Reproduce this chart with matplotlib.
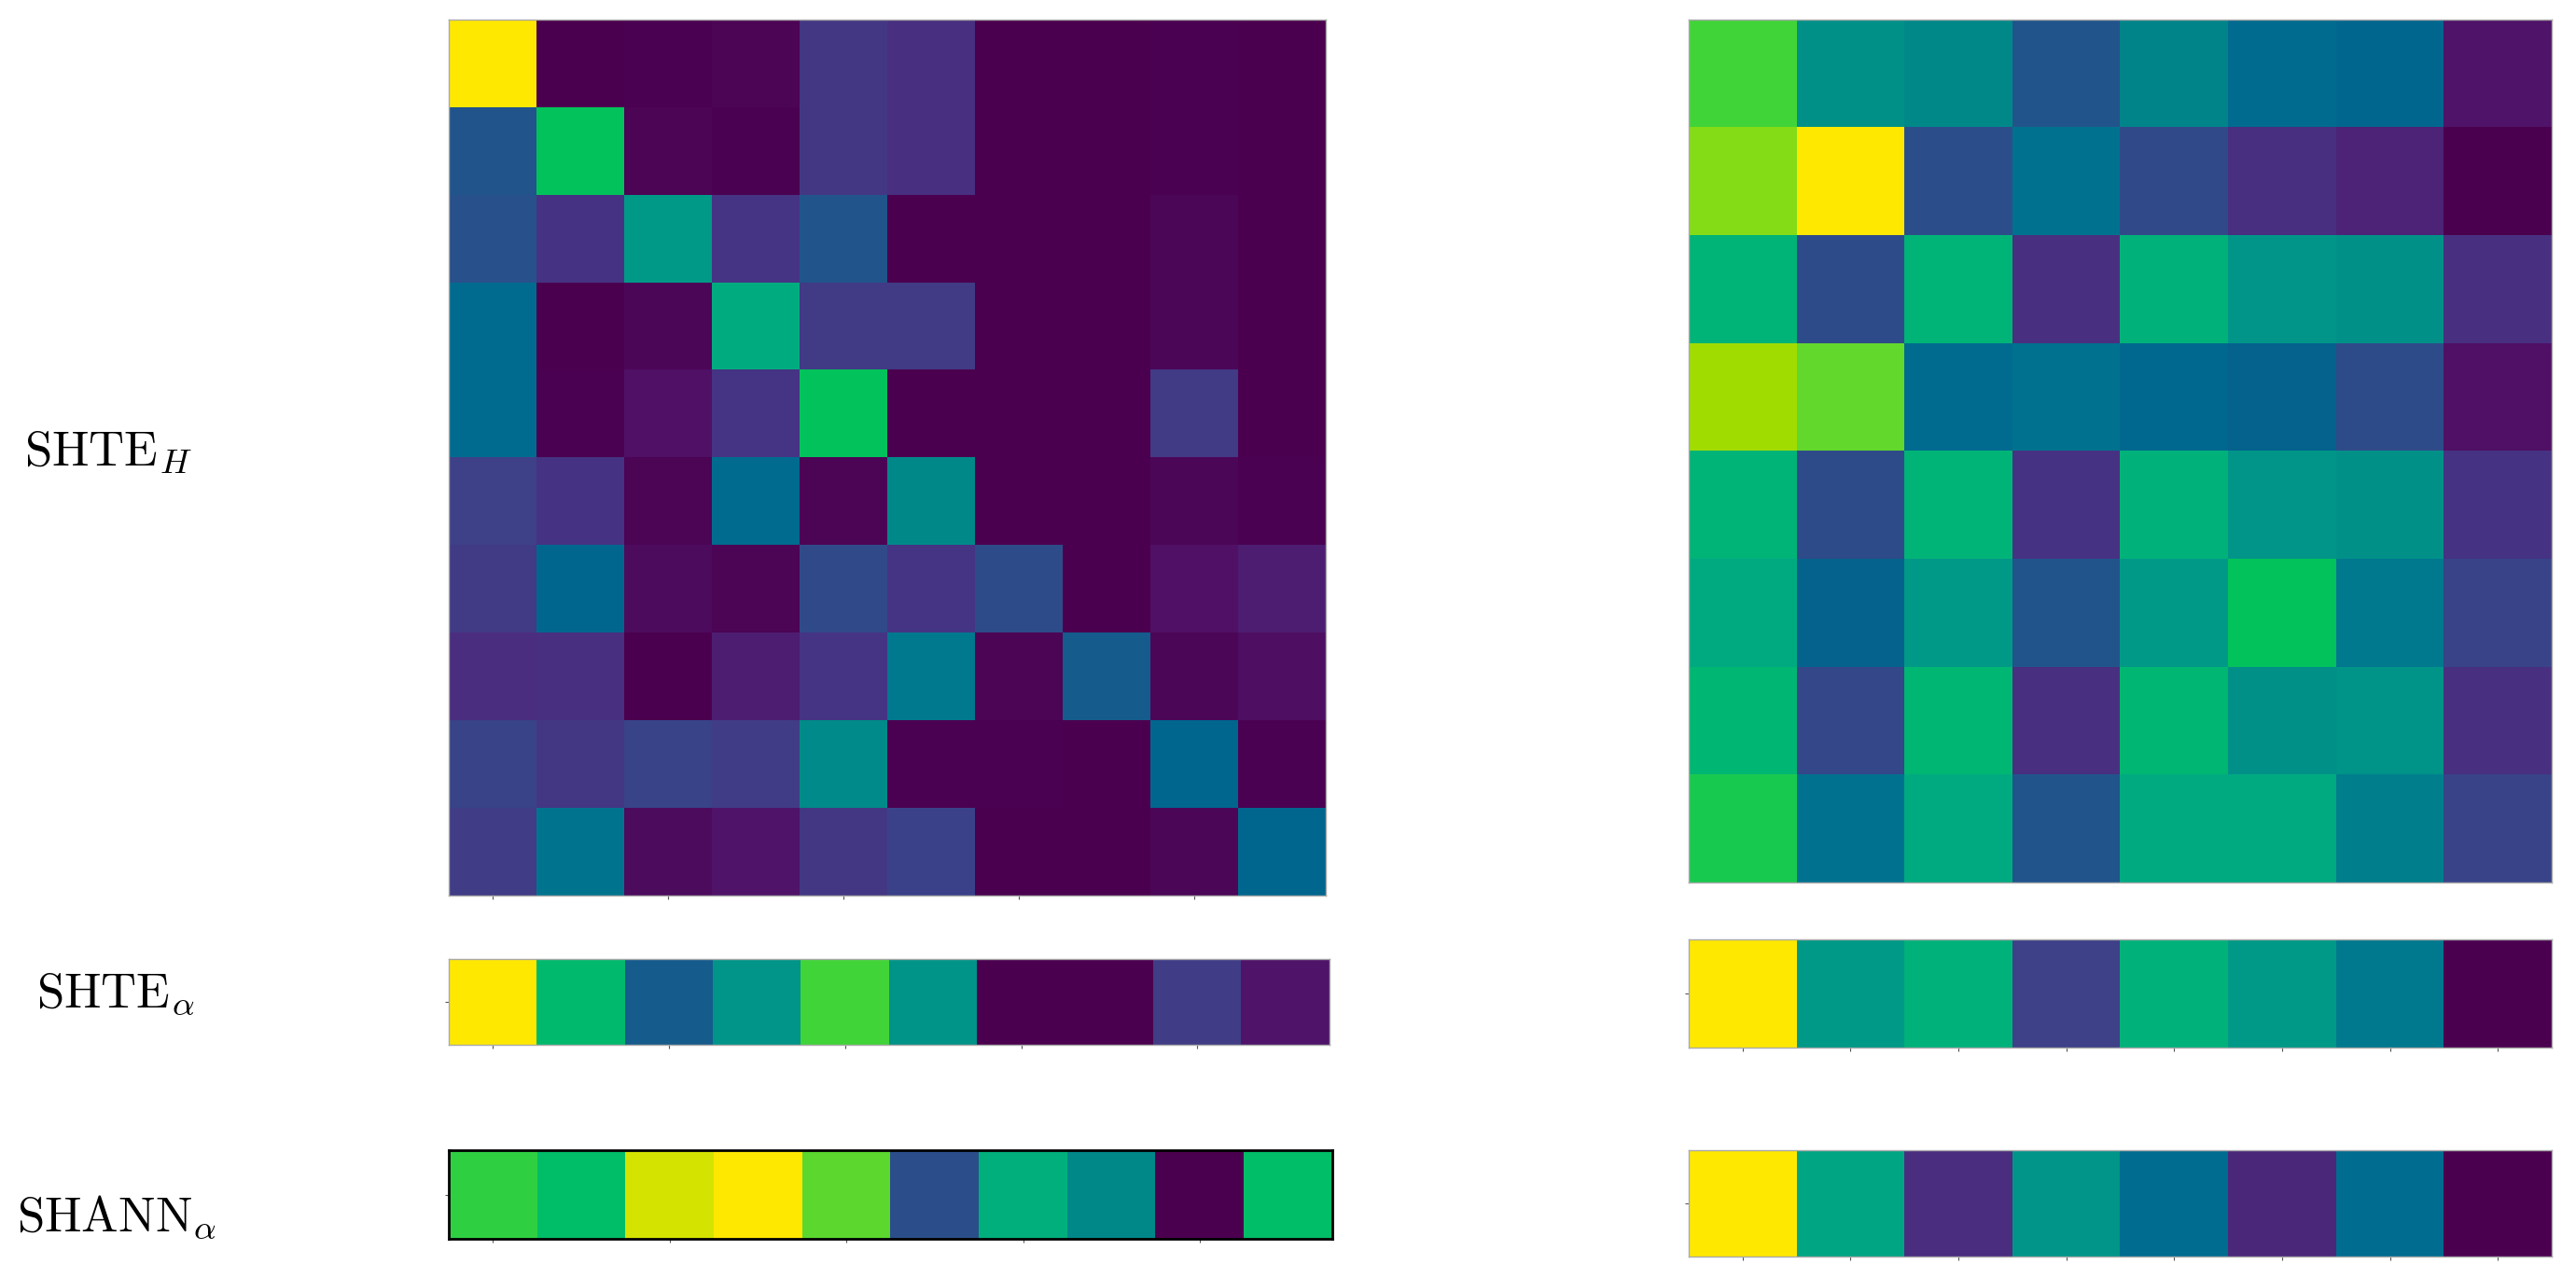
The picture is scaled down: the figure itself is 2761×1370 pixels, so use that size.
import numpy as np
import matplotlib
matplotlib.use("Agg")
import matplotlib.pyplot as plt
from matplotlib.colors import LinearSegmentedColormap

plt.rcParams["mathtext.fontset"] = "cm"

# left column (10 heads)
shte_h_left = [
    [1.00, 0.00, 0.01, 0.02, 0.17, 0.14, 0.00, 0.00, 0.01, 0.00],
    [0.30, 0.70, 0.02, 0.01, 0.17, 0.14, 0.00, 0.00, 0.01, 0.00],
    [0.28, 0.15, 0.56, 0.16, 0.30, 0.00, 0.00, 0.00, 0.03, 0.00],
    [0.40, 0.00, 0.03, 0.62, 0.18, 0.18, 0.00, 0.00, 0.03, 0.00],
    [0.40, 0.01, 0.07, 0.16, 0.70, 0.00, 0.00, 0.00, 0.18, 0.00],
    [0.20, 0.15, 0.02, 0.40, 0.02, 0.50, 0.00, 0.00, 0.03, 0.01],
    [0.18, 0.38, 0.05, 0.02, 0.25, 0.16, 0.26, 0.00, 0.07, 0.10],
    [0.13, 0.14, 0.00, 0.10, 0.16, 0.45, 0.02, 0.33, 0.03, 0.06],
    [0.22, 0.17, 0.22, 0.19, 0.51, 0.01, 0.01, 0.00, 0.38, 0.01],
    [0.19, 0.44, 0.05, 0.08, 0.17, 0.21, 0.00, 0.00, 0.03, 0.38],
]
shte_a_left = [1.00, 0.67, 0.33, 0.55, 0.76, 0.54, 0.00, 0.00, 0.19, 0.08]
shann_a_left = [0.74, 0.68, 0.94, 1.00, 0.79, 0.27, 0.63, 0.50, 0.00, 0.68]

# right column (8 heads)
shte_h_right = [
    [0.76, 0.53, 0.50, 0.30, 0.49, 0.40, 0.38, 0.08],
    [0.84, 1.00, 0.27, 0.43, 0.25, 0.14, 0.11, 0.00],
    [0.65, 0.26, 0.65, 0.14, 0.64, 0.55, 0.53, 0.14],
    [0.87, 0.80, 0.40, 0.43, 0.39, 0.36, 0.26, 0.07],
    [0.65, 0.26, 0.65, 0.15, 0.64, 0.55, 0.53, 0.15],
    [0.61, 0.36, 0.56, 0.30, 0.56, 0.70, 0.45, 0.22],
    [0.66, 0.24, 0.66, 0.14, 0.66, 0.53, 0.54, 0.14],
    [0.72, 0.43, 0.61, 0.30, 0.61, 0.61, 0.47, 0.22],
]
shte_a_right = [1.00, 0.56, 0.64, 0.20, 0.64, 0.56, 0.45, 0.00]
shann_a_right = [1.00, 0.59, 0.13, 0.55, 0.41, 0.12, 0.41, 0.00]

row_labels = [r"$\mathrm{SHTE}_H$", r"$\mathrm{SHTE}_\alpha$", r"$\mathrm{SHANN}_\alpha$"]

# a more saturated take on viridis, as in the source image
cmap = LinearSegmentedColormap.from_list("vivid", [
    (0.00, "#4b004f"), (0.08, "#50146a"), (0.13, "#4a2e80"),
    (0.20, "#3e4088"), (0.27, "#2c4e8a"), (0.32, "#1a5a8c"),
    (0.37, "#00648e"), (0.43, "#007290"), (0.50, "#00888a"),
    (0.55, "#009688"), (0.60, "#00a884"), (0.65, "#00b478"),
    (0.70, "#00c25e"), (0.75, "#38d43c"), (0.80, "#62d82c"),
    (0.84, "#80dc18"), (0.87, "#a0dc00"), (0.94, "#d4e400"),
    (1.00, "#ffe800"),
])


def draw(ax, data, xstep):
    data = np.atleast_2d(np.array(data))
    ax.imshow(data, cmap=cmap, vmin=0, vmax=1, aspect="auto", interpolation="nearest")
    n = data.shape[1]
    ax.set_xticks(np.arange(0, n, xstep))
    ax.set_xticklabels([])
    if data.shape[0] == 1:
        ax.set_yticks([0])
    else:
        ax.set_yticks([])
    ax.set_yticklabels([])
    ax.tick_params(length=3, width=0.8, color="#555555")
    for s in ax.spines.values():
        s.set_color("#aaaaaa")
        s.set_linewidth(1.0)


fig = plt.figure(figsize=(27.61, 13.70), dpi=100)

W, H = 2761, 1370


def box(x0, y0, x1, y1):
    return [x0 / W, 1 - y1 / H, (x1 - x0) / W, (y1 - y0) / H]


ax = fig.add_axes(box(481, 21, 1421, 960))
draw(ax, shte_h_left, 2)
ax = fig.add_axes(box(481, 1028, 1425, 1120))
draw(ax, shte_a_left, 2)
ax = fig.add_axes(box(481, 1233, 1428, 1328))
draw(ax, shann_a_left, 2)
for side in ["top", "bottom", "left", "right"]:
    ax.spines[side].set_color("black")
    ax.spines[side].set_linewidth(2.0)

ax = fig.add_axes(box(1810, 21, 2735, 946))
draw(ax, shte_h_right, 1)
ax.set_xticks([])
ax = fig.add_axes(box(1810, 1007, 2735, 1123))
draw(ax, shte_a_right, 1)
ax = fig.add_axes(box(1810, 1233, 2735, 1347))
draw(ax, shann_a_right, 1)

label_pos = [(26, 484), (39, 1065), (18, 1305)]
for lab, (x, y) in zip(row_labels, label_pos):
    fig.text(x / W, 1 - y / H, lab, fontsize=38, ha="left", va="center")

fig.savefig("out.png", dpi=100)
